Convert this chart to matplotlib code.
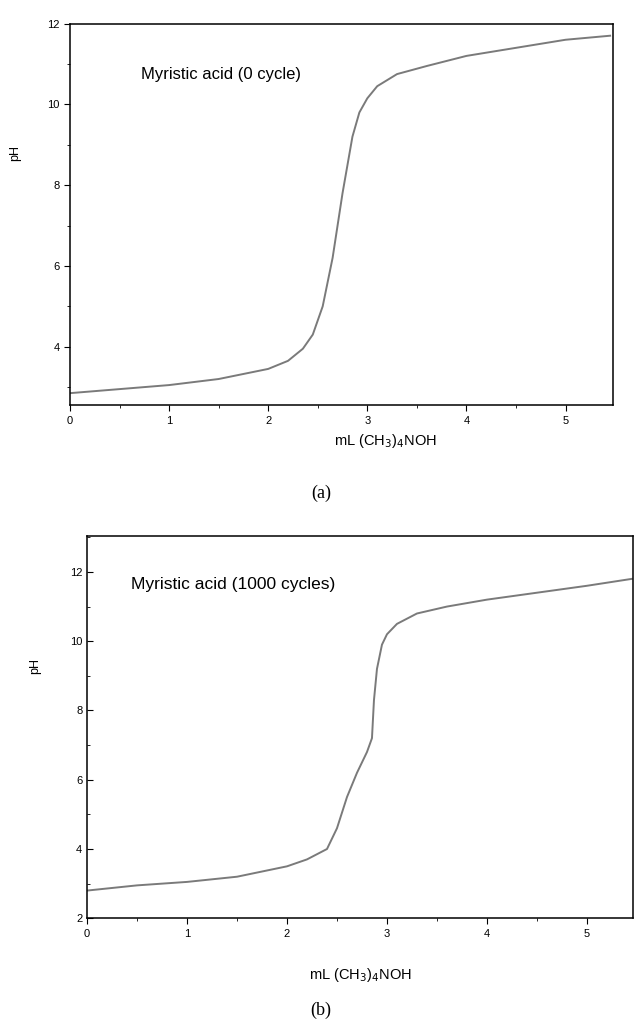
import numpy as np
import matplotlib.pyplot as plt
from matplotlib.ticker import MultipleLocator

# titration curves
ml_a = [0.0, 0.5, 1.0, 1.5, 2.0, 2.2, 2.35, 2.45, 2.55, 2.65, 2.75, 2.85,
        2.92, 3.0, 3.1, 3.3, 3.6, 4.0, 4.5, 5.0, 5.45]
ph_a = [2.85, 2.95, 3.05, 3.2, 3.45, 3.65, 3.95, 4.3, 5.0, 6.2, 7.8, 9.2,
        9.8, 10.15, 10.45, 10.75, 10.95, 11.2, 11.4, 11.6, 11.7]

ml_b = [0.0, 0.5, 1.0, 1.5, 2.0, 2.2, 2.4, 2.5, 2.6, 2.7, 2.8, 2.85,
        2.87, 2.9, 2.95, 3.0, 3.1, 3.3, 3.6, 4.0, 4.5, 5.0, 5.45]
ph_b = [2.8, 2.95, 3.05, 3.2, 3.5, 3.7, 4.0, 4.6, 5.5, 6.2, 6.8, 7.2,
        8.3, 9.2, 9.9, 10.2, 10.5, 10.8, 11.0, 11.2, 11.4, 11.6, 11.8]

labels = ["Myristic acid (0 cycle)", "Myristic acid (1000 cycles)"]
panels = ["(a)", "(b)"]

fig = plt.figure(figsize=(6.36, 10.26), dpi=100)
plt.rcParams['font.family'] = ['Liberation Sans', 'DejaVu Sans']

ax1 = fig.add_axes([0.110, 0.605, 0.854, 0.372])
ax2 = fig.add_axes([0.137, 0.105, 0.858, 0.373])

curve_col = "#7a7a7a"

ax1.plot(ml_a, ph_a, color=curve_col, lw=1.4)
ax1.set_xlim(0, 5.48)
ax1.set_ylim(2.55, 12)
ax1.set_yticks([4, 6, 8, 10, 12])
ax1.yaxis.set_minor_locator(MultipleLocator(1))
ax1.tick_params(axis="y", which="both", direction="out")
ax1.text(0.13, 0.855, labels[0], transform=ax1.transAxes, fontsize=12)

ax2.plot(ml_b, ph_b, color=curve_col, lw=1.4)
ax2.set_xlim(0, 5.46)
ax2.set_ylim(2, 13.05)
ax2.set_yticks([2, 4, 6, 8, 10, 12])
ax2.yaxis.set_minor_locator(MultipleLocator(1))
ax2.tick_params(axis="y", which="both", direction="in")
ax2.text(0.08, 0.86, labels[1], transform=ax2.transAxes, fontsize=12.5)

for ax in (ax1, ax2):
    ax.set_xticks([0, 1, 2, 3, 4, 5])
    ax.xaxis.set_minor_locator(MultipleLocator(0.5))
    ax.tick_params(axis="x", which="both", direction="out")
    ax.tick_params(which="major", length=4, labelsize=8)
    ax.tick_params(which="minor", length=2.5)
    for s in ax.spines.values():
        s.set_linewidth(1.1)

ax1.set_ylabel("pH", fontsize=9)
ax2.set_ylabel("pH", fontsize=9)
ax1.set_xlabel("mL (CH$_3$)$_4$NOH", fontsize=10.5)
ax2.set_xlabel("mL (CH$_3$)$_4$NOH", fontsize=10.5)
ax1.xaxis.set_label_coords(0.58, -0.07)
ax2.xaxis.set_label_coords(0.50, -0.125)
ax1.yaxis.set_label_coords(-0.09, 0.66)
ax2.yaxis.set_label_coords(-0.085, 0.66)

fig.text(0.505, 0.515, panels[0], ha="center", fontsize=13, family="Liberation Serif")
fig.text(0.505, 0.011, panels[1], ha="center", fontsize=13, family="Liberation Serif")

fig.savefig("out.png", dpi=100)
